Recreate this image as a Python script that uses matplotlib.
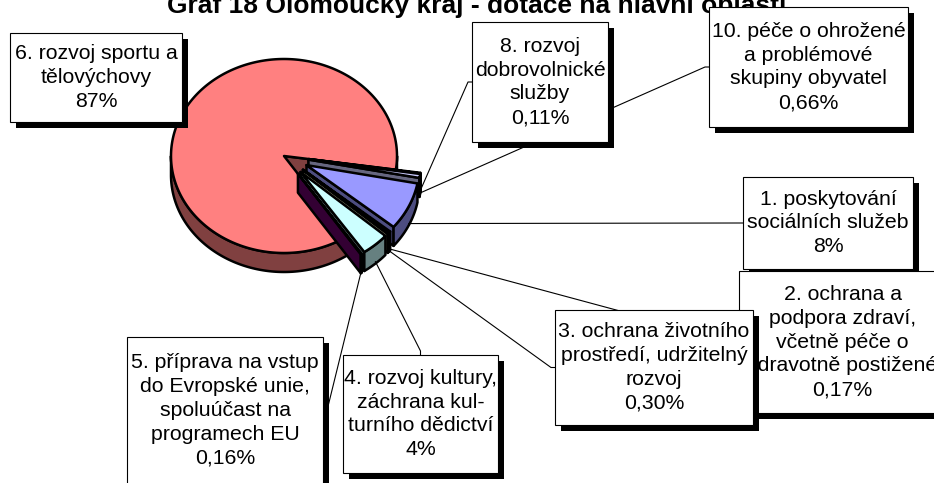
import numpy as np
import matplotlib.pyplot as plt
from matplotlib.colors import to_rgb
from matplotlib.patches import Polygon, Rectangle

plt.rcParams['font.family'] = ['Liberation Sans', 'DejaVu Sans']

title = 'Graf 18 Olomoucký kraj - dotace na hlavní oblasti'

names = [
    '1. poskytování\nsociálních služeb',
    '2. ochrana a\npodpora zdraví,\nvčetně péče o\nzdravotně postižené',
    '3. ochrana životního\nprostředí, udržitelný\nrozvoj',
    '4. rozvoj kultury,\nzáchrana kul-\nturního dědictví',
    '5. příprava na vstup\ndo Evropské unie,\nspoluúčast na\nprogramech EU',
    '6. rozvoj sportu a\ntělovýchovy',
    '8. rozvoj\ndobrovolnické\nslužby',
    '10. péče o ohrožené\na problémové\nskupiny obyvatel',
]
shares = [8, 0.17, 0.30, 4, 0.16, 87, 0.11, 0.66]
share_labels = ['8%', '0,17%', '0,30%', '4%', '0,16%', '87%', '0,11%', '0,66%']
colors = ['#9999FF', '#993366', '#FFFFCC', '#CCFFFF',
          '#660066', '#FF8080', '#0066CC', '#CCCCFF']
explode = [0.22, 0.22, 0.22, 0.22, 0.22, 0.0, 0.22, 0.22]

# label boxes: left, top, right, bottom (pixels) and the side the leader joins
boxes = [
    (743, 177, 913, 269),
    (739, 271, 946, 413),
    (555, 310, 753, 425),
    (343, 355, 498, 473),
    (127, 337, 323, 484),
    (10, 33, 182, 122),
    (472, 22, 608, 142),
    (709, 7, 908, 127),
]
leader_side = ['left', 'left', 'left', 'top', 'right', None, 'left', 'left']

# pie geometry (pixels), slices run clockwise from START
CX, CY = 284, 156
RX, RY = 113, 97
DEPTH = 19
START = -10.9
LW = 1.8

fig = plt.figure(figsize=(9.34, 4.83), dpi=100)
ax = fig.add_axes([0, 0, 1, 1])
ax.set_xlim(0, 934)
ax.set_ylim(483, 0)
ax.axis('off')


def rim(cx, cy, t, dy=0.0):
    t = np.radians(t)
    return cx + RX * np.cos(t), cy - RY * np.sin(t) + dy


def arc(cx, cy, t1, t2, dy=0.0):
    ts = np.linspace(t1, t2, int(abs(t2 - t1)) + 2)
    x, y = rim(cx, cy, ts, dy)
    return np.column_stack([x, y])


def darker(c, f=0.5):
    return tuple(v * f for v in to_rgb(c))


total = sum(shares)
spans = np.array(shares) / total * 360
a_hi = START - np.concatenate([[0], np.cumsum(spans)[:-1]])
a_lo = a_hi - spans

anchors = {}
for i in [5, 6, 7, 0, 1, 2, 3, 4]:
    lo, hi = a_lo[i], a_hi[i]
    mid = (lo + hi) / 2
    m = np.radians(mid)
    cx = CX + explode[i] * RX * np.cos(m)
    cy = CY - explode[i] * RY * np.sin(m)
    side = darker(colors[i])
    style = dict(ec='black', lw=LW, joinstyle='round', zorder=2)

    # radial cut faces that turn towards the viewer
    for edge, visible in ((hi, np.cos(np.radians(hi)) < 0),
                          (lo, np.cos(np.radians(lo)) > 0)):
        if visible:
            x, y = rim(cx, cy, edge)
            face = [(cx, cy), (x, y), (x, y + DEPTH), (cx, cy + DEPTH)]
            ax.add_patch(Polygon(face, fc=side, **style))

    # front part of the outer wall
    for k in range(-2, 2):
        w_lo = max(lo, -180 + 360 * k)
        w_hi = min(hi, 360 * k)
        if w_hi > w_lo:
            wall = np.vstack([arc(cx, cy, w_lo, w_hi),
                              arc(cx, cy, w_hi, w_lo, DEPTH)])
            ax.add_patch(Polygon(wall, fc=side, **style))

    top = np.vstack([[cx, cy], arc(cx, cy, lo, hi)])
    ax.add_patch(Polygon(top, fc=colors[i], **style))

    anchors[i] = rim(cx, cy, mid, 0.9 * DEPTH)

# leader lines and label boxes
for i, (x0, y0, x1, y1) in enumerate(boxes):
    bx, by = (x0 + x1) / 2, (y0 + y1) / 2
    side = leader_side[i]
    if side is not None:
        if side == 'left':
            end, knee = (x0, by), (x0 - 4, by)
        elif side == 'right':
            end, knee = (x1, by), (x1 + 4, by)
        else:
            end, knee = (bx, y0), (bx, y0 - 4)
        ax_, ay_ = anchors[i]
        ax.plot([ax_, knee[0], end[0]], [ay_, knee[1], end[1]],
                color='black', lw=0.8, zorder=3)
    ax.add_patch(Rectangle((x0 + 6, y0 + 6), x1 - x0, y1 - y0,
                           fc='black', ec='none', zorder=4 + i * 0.1))
    ax.add_patch(Rectangle((x0, y0), x1 - x0, y1 - y0, fc='white',
                           ec='black', lw=0.8, zorder=4.02 + i * 0.1))
    ax.text(bx, by, names[i] + '\n' + share_labels[i], ha='center',
            va='center', multialignment='center', fontsize=15.3,
            linespacing=1.32, zorder=4.05 + i * 0.1)

ax.text(477, 13, title, ha='center', va='baseline', fontsize=19,
        fontweight='bold', zorder=3.5)

fig.savefig('out.png', dpi=100)
